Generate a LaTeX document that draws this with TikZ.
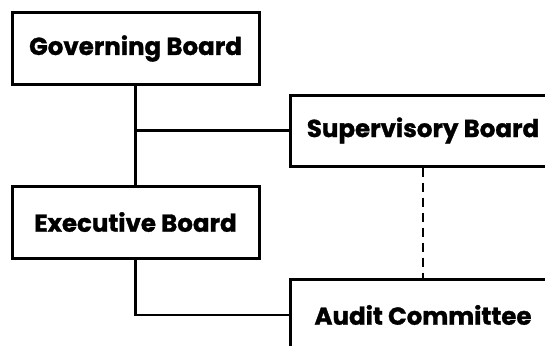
\documentclass[tikz,border=0pt]{standalone}
\usepackage{fontspec}
\setmainfont{Poppins}[BoldFeatures={FakeBold=1.2}]
\begin{document}
\begin{tikzpicture}[x=1pt,y=-1pt,
  orgbox/.style={draw, line width=3pt, fill=white, inner sep=0pt,
    font=\bfseries\fontsize{24.5}{28}\selectfont},
  link/.style={line width=2.6pt},
  dotlink/.style={line width=2.6pt, dash pattern=on 9pt off 6pt}]
\useasboundingbox (0,0) rectangle (545,345);
\clip (0,0) rectangle (545,345);
% boards and committee
\node[orgbox, minimum width=247pt, minimum height=71pt] (gov) at (135.5,48.5) {Governing Board};
\node[orgbox, minimum width=247pt, minimum height=72pt] (exe) at (135.5,222) {Executive Board};
\node[orgbox, minimum width=266pt, minimum height=71pt] (sup) at (423,130.5) {Supervisory Board};
\node[orgbox, minimum width=266pt, minimum height=72pt] (aud) at (423,315) {Audit Committee};
% reporting lines
\coordinate (j) at (gov.south |- sup.west);
\draw[link] (gov.south) -- (exe.north);
\draw[link] (j) -- (sup.west);
\draw[link] (exe.south) |- (aud.west);
\draw[dotlink] (sup.south) -- (aud.north);
\end{tikzpicture}
\end{document}
